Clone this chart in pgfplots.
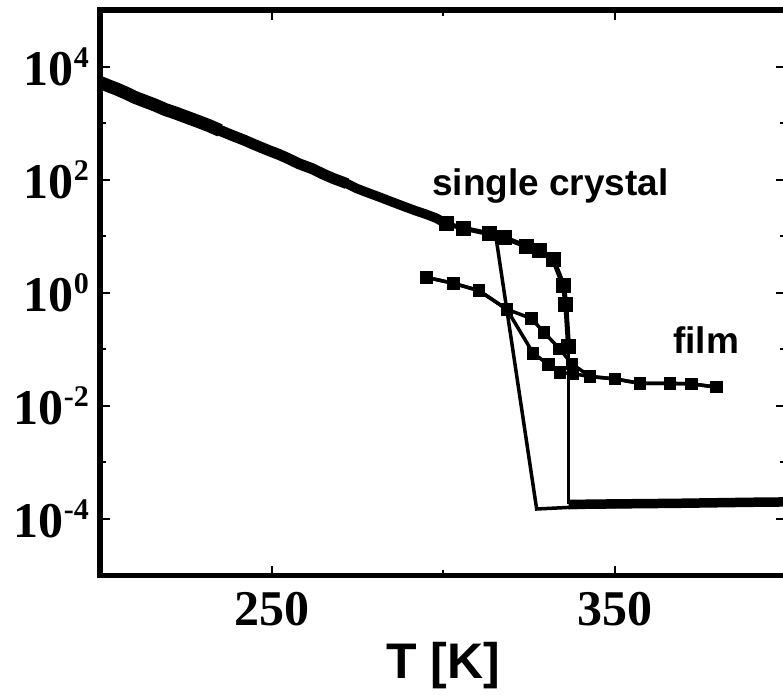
\documentclass[border=0pt]{standalone}
\usepackage{pgfplots}
\pgfplotsset{compat=1.18}
\usepackage{fontspec}
\setmainfont{Liberation Serif}
\newfontfamily\sansf{Liberation Sans}
\newcommand{\sps}[1]{\raisebox{18pt}{\fontsize{30}{30}\selectfont #1}}
\begin{document}
\begin{tikzpicture}
\begin{axis}[
  at={(0pt,0pt)}, anchor=south west,
  scale only axis, width=686pt, height=565.5pt,
  ymode=log, xmin=200, xmax=400, ymin=1e-5, ymax=1e5,
  axis line style={line width=5.5pt},
  xtick={250,350}, minor xtick={300},
  ytick={1e-4,1e-2,1,1e2,1e4},
  yticklabels={10\sps{-4},10\sps{-2},10\sps{0},10\sps{2},10\sps{4}},
  minor ytick={1e-3,1e-1,1e1,1e3},
  xticklabels={250,350},
  tick align=inside,
  major tick length=10pt, minor tick length=6pt,
  tick style={line width=2pt, black},
  ticklabel style={font=\fontsize{50}{50}\selectfont\bfseries, inner sep=0pt},
  yticklabel style={xshift=-11pt},
  xticklabel style={yshift=-17pt},
  xlabel={T [K]},
  xlabel style={font=\fontsize{50}{50}\selectfont\sansf\bfseries, inner sep=0pt, at={(rel axis cs:0.5,0)}, anchor=north, yshift=-67pt},
]
% single crystal, heating: dense low-temperature part (thick band)
\addplot[black, line width=13pt, mark=none] coordinates {
(200,5.25e3) (202,4.68e3) (205,3.98e3) (208,3.31e3) (210,2.88e3) (213,2.45e3)
(216,2.09e3) (219,1.74e3) (222,1.51e3) (225,1.29e3) (229,1.05e3) (232,891)
(235,741)
};
\addplot[black, line width=11pt, mark=none] coordinates {
(232,891) (235,741) (239,589) (242,501) (245,417) (249,331) (252,282) (255,234)
(258,191) (262,155) (265,126) (268,105) (272,85.1)
};
\addplot[black, line width=9.5pt, mark=none] coordinates {
(268,105) (272,85.1) (275,69.2) (278,58.9)
(282,47.9) (285,40.7) (288,34.7) (292,28.2) (295,24.5) (298,20.9) (301,16.6)
};
% single crystal, heating: near the transition
\addplot[black, line width=5pt, mark=square*, mark size=5pt] coordinates {
(301,16.6) (306,13.8) (313.7,11.0) (318,9.33) (324.4,6.6) (328,5.6) (332.2,3.80)
(335.1,1.35) (335.8,0.631) (336.6,0.110)
};
\addplot[black, line width=3pt, mark=none] coordinates {
(336.6,0.110) (336.6,1.82e-4)
};
% single crystal, heating: metallic state
\addplot[black, line width=9.5pt, mark=none] coordinates {
(336.6,1.80e-4) (344,1.83e-4) (352,1.85e-4) (360,1.87e-4) (368,1.89e-4)
(376,1.92e-4) (384,1.95e-4) (392,1.98e-4) (400,2.0e-4)
};
% single crystal, cooling
\addplot[black, line width=3.5pt, mark=none] coordinates {
(400,1.9e-4) (336.6,1.6e-4) (327.3,1.5e-4) (315.6,8.3)
};
% film, heating
\addplot[black, line width=3.5pt, mark=square*, mark size=4.5pt] coordinates {
(295.2,1.87) (303.0,1.47) (310.5,1.09) (318.6,0.51) (325.8,0.35) (329.4,0.20)
(334.0,0.102) (337.6,0.055) (342.9,0.033) (350.1,0.030) (357.4,0.025)
(366.2,0.025) (372.5,0.0245) (379.8,0.0214)
};
% film, cooling
\addplot[black, line width=3.5pt, mark=square*, mark size=4.5pt] coordinates {
(379.8,0.0214) (372.5,0.0245) (366.2,0.025) (357.4,0.025) (350.1,0.030)
(342.9,0.033) (337.9,0.037) (334.1,0.039) (330.7,0.054) (326.3,0.085)
(318.6,0.51) (310.5,1.09) (303.0,1.47) (295.2,1.87)
};
\node[anchor=base west, inner sep=0pt, font=\fontsize{37}{37}\selectfont\sansf\bfseries] at (axis cs:296.8,52) {single crystal};
\node[anchor=base west, inner sep=0pt, font=\fontsize{37}{37}\selectfont\sansf\bfseries] at (axis cs:367.1,0.084) {film};
\end{axis}
\pgfresetboundingbox
\path[use as bounding box] (-100pt,-120.5pt) rectangle (683pt,575.5pt);
\end{tikzpicture}
\end{document}
